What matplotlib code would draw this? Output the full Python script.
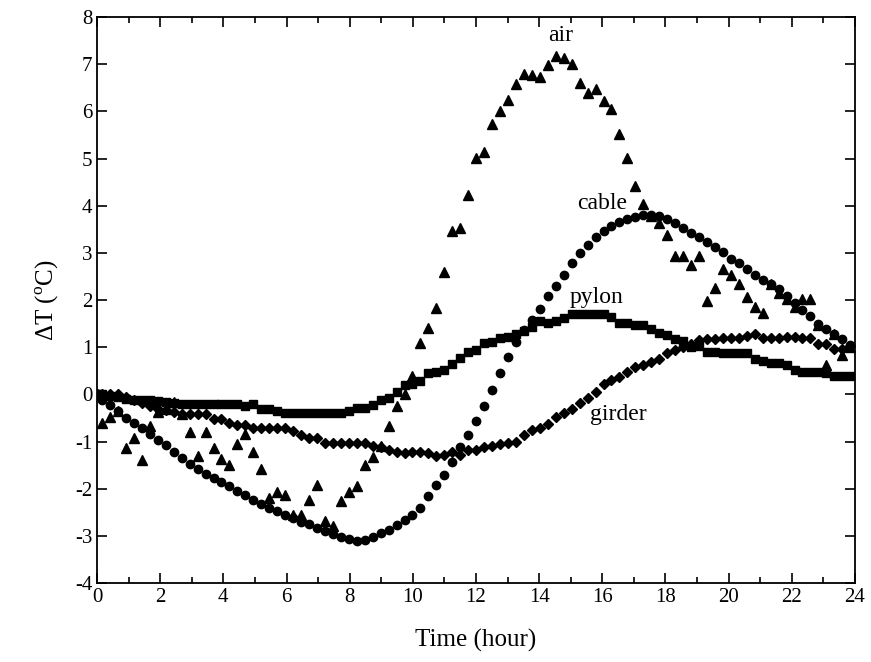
import numpy as np
import matplotlib
matplotlib.use("Agg")
import matplotlib.pyplot as plt
from matplotlib.ticker import MultipleLocator

plt.rcParams['font.family'] = ['Liberation Serif', 'DejaVu Serif']
plt.rcParams['mathtext.fontset'] = 'custom'
plt.rcParams['mathtext.rm'] = 'Liberation Serif'
plt.rcParams['axes.unicode_minus'] = False

# sample times (hour): start point, then 15-min readings
hours = np.concatenate(([0.0], np.linspace(0.16, 23.85, 95)))

air = [0.0,
       -0.60, -0.49, -0.35, -1.13, -0.93, -1.40, -0.67, -0.38, -0.32, -0.17, -0.41, -0.79, -1.30, -0.79, -1.14, -1.37,
       -1.50, -1.06, -0.84, -1.23, -1.58, -2.20, -2.06, -2.13, -2.56, -2.56, -2.23, -1.93, -2.69, -2.79, -2.26, -2.06,
       -1.95, -1.50, -1.32, -1.10, -0.67, -0.24, 0.00, 0.39, 1.08, 1.40, 1.84, 2.59, 3.46, 3.52, 4.22, 5.02,
       5.14, 5.73, 6.01, 6.24, 6.57, 6.80,
       6.78, 6.73, 6.98, 7.17, 7.14, 7.00, 6.61, 6.39, 6.47, 6.22, 6.04, 5.51, 5.01, 4.41, 4.03,
       3.78, 3.64, 3.38, 2.93, 2.93, 2.74, 2.93, 1.98, 2.26, 2.66,
       2.53, 2.35, 2.06, 1.85, 1.72, 2.33, 2.14, 2.03, 1.86, 2.03, 2.03, 1.48, 0.63, 1.27, 0.83, 1.00]

cable = [0.0,
         -0.13, -0.23, -0.35, -0.50, -0.60, -0.72, -0.85, -0.97, -1.07, -1.22, -1.34, -1.48, -1.58, -1.68, -1.78, -1.85,
         -1.94, -2.04, -2.13, -2.23, -2.33, -2.40, -2.48, -2.56, -2.63, -2.70, -2.75, -2.83, -2.90, -2.96, -3.02, -3.07,
         -3.10, -3.09, -3.02, -2.95, -2.88, -2.77, -2.66, -2.56, -2.42, -2.16, -1.92, -1.70, -1.44, -1.11, -0.86, -0.57,
         -0.25, 0.10, 0.45, 0.80, 1.10, 1.36,
         1.58, 1.80, 2.08, 2.30, 2.54, 2.78, 2.99, 3.16, 3.34, 3.46, 3.57, 3.66, 3.71, 3.75, 3.80,
         3.80, 3.78, 3.72, 3.63, 3.52, 3.43, 3.33, 3.24, 3.13, 3.02,
         2.88, 2.78, 2.65, 2.53, 2.42, 2.33, 2.23, 2.09, 1.94, 1.79, 1.66, 1.50, 1.38, 1.27, 1.17, 1.05]

pylon = [0.0,
         0.00, -0.03, -0.06, -0.10, -0.12, -0.12, -0.12, -0.15, -0.16, -0.18, -0.20, -0.20, -0.20, -0.20, -0.20, -0.21,
         -0.21, -0.21, -0.25, -0.21, -0.32, -0.32, -0.35, -0.40, -0.40, -0.40, -0.40, -0.40, -0.40, -0.40, -0.40, -0.35,
         -0.29, -0.29, -0.23, -0.12, -0.08, 0.05, 0.19, 0.22, 0.28, 0.45, 0.48, 0.52, 0.65, 0.77, 0.90, 0.95,
         1.08, 1.12, 1.19, 1.22, 1.29, 1.35,
         1.42, 1.55, 1.52, 1.55, 1.62, 1.70, 1.70, 1.70, 1.70, 1.70, 1.65, 1.52, 1.52, 1.47, 1.47,
         1.38, 1.31, 1.26, 1.17, 1.14, 1.00, 1.02, 0.90, 0.90, 0.88,
         0.87, 0.87, 0.87, 0.76, 0.71, 0.67, 0.66, 0.62, 0.52, 0.48, 0.48, 0.48, 0.46, 0.39, 0.39, 0.39]

girder = [0.0,
          0.00, 0.00, 0.00, -0.05, -0.11, -0.19, -0.25, -0.31, -0.34, -0.37, -0.41, -0.42, -0.42, -0.42, -0.53, -0.53,
          -0.60, -0.64, -0.64, -0.72, -0.72, -0.72, -0.72, -0.72, -0.78, -0.86, -0.93, -0.93, -1.03, -1.03, -1.03, -1.03,
          -1.04, -1.04, -1.10, -1.11, -1.18, -1.22, -1.25, -1.22, -1.22, -1.25, -1.31, -1.29, -1.22, -1.29, -1.17, -1.17,
          -1.12, -1.09, -1.05, -1.04, -1.00, -0.86,
          -0.76, -0.72, -0.62, -0.49, -0.39, -0.31, -0.19, -0.07, 0.06, 0.23, 0.30, 0.37, 0.48, 0.57, 0.63,
          0.68, 0.76, 0.87, 0.95, 1.01, 1.07, 1.15, 1.17, 1.17, 1.19,
          1.19, 1.19, 1.24, 1.28, 1.19, 1.19, 1.19, 1.22, 1.22, 1.19, 1.19, 1.07, 1.07, 0.97, 0.97, 1.02]

fig = plt.figure(figsize=(8.71, 6.62), dpi=100)
ax = fig.add_axes([0.1114, 0.1193, 0.8702, 0.855])

ax.plot(hours, girder, 'D', color='black', ms=4.8, mec='black')
ax.plot(hours, pylon, 's', color='black', ms=5.5, mec='black')
ax.plot(hours, cable, 'o', color='black', ms=6, mec='black')
ax.plot(hours, air, '^', color='black', ms=6.6, mec='black')

ax.text(14.68, 7.6, 'air', fontsize=17, ha='center', va='center')
ax.text(16.0, 4.04, 'cable', fontsize=17, ha='center', va='center')
ax.text(15.8, 2.05, 'pylon', fontsize=17, ha='center', va='center')
ax.text(16.5, -0.42, 'girder', fontsize=17, ha='center', va='center')

ax.set_xlim(0, 24)
ax.set_ylim(-4, 8)
ax.xaxis.set_major_locator(MultipleLocator(2))
ax.xaxis.set_minor_locator(MultipleLocator(1))
ax.yaxis.set_major_locator(MultipleLocator(1))
ax.tick_params(which='both', direction='in', top=True, right=True, labelsize=15, width=1.2)
ax.tick_params(which='major', length=7)
ax.tick_params(which='minor', length=4)
for s in ax.spines.values():
    s.set_linewidth(1.3)

ax.set_xlabel('Time (hour)', fontsize=18, labelpad=16)
ax.set_ylabel('ΔT ($^{\\rm o}$C)', fontsize=18, labelpad=10)

fig.savefig('out.png', dpi=100)
